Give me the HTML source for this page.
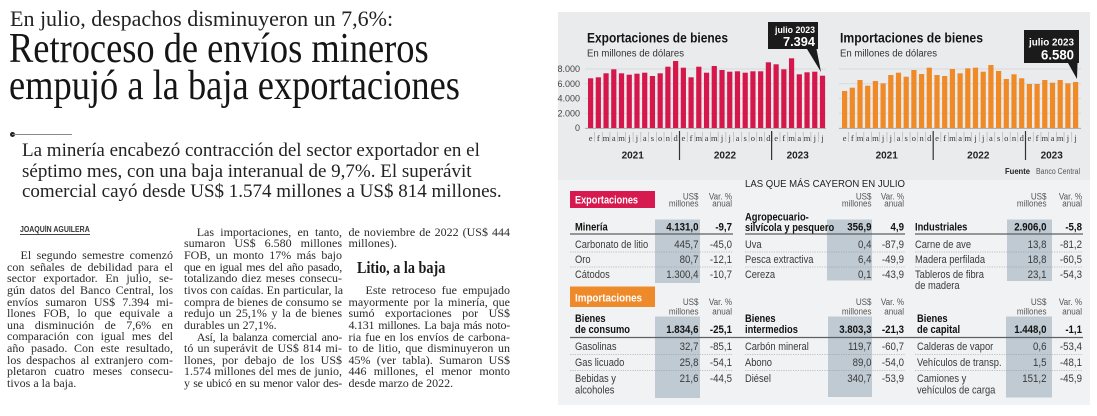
<!DOCTYPE html>
<html><head><meta charset="utf-8">
<style>
html,body{margin:0;padding:0;background:#fff;}
body{width:1097px;height:416px;position:relative;overflow:hidden;font-family:"Liberation Serif",serif;color:#1e1e1e;}
.a{position:absolute;white-space:nowrap;}
.kick{left:10px;top:8.3px;font-size:22px;line-height:22px;color:#222;}
.hl{left:9px;font-size:42px;line-height:42px;transform:scaleX(.867);transform-origin:0 0;color:#151515;}
.dk{left:22px;font-size:19px;line-height:19px;color:#222;}
.col{position:absolute;font-size:12px;line-height:11.67px;color:#2a2a2a;}
.col div{height:11.67px;white-space:nowrap;}
.j{text-align:justify;text-align-last:justify;}
.l{text-align:left;}
.t{letter-spacing:-0.25px;}
</style></head><body>

<div class="a kick">En julio, despachos disminuyeron un 7,6%:</div>
<div class="a hl" style="top:28.1px">Retroceso de envíos mineros</div>
<div class="a hl" style="top:64.8px">empujó a la baja exportaciones</div>

<div class="a" style="left:9.5px;top:131.5px;width:5px;height:5px;border-radius:50%;background:#222"></div>
<div class="a" style="left:12px;top:133.6px;width:60px;height:1px;background:#8a8a8a"></div>

<div class="a dk" style="top:140.8px">La minería encabezó contracción del sector exportador en el</div>
<div class="a dk" style="top:161.6px">séptimo mes, con una baja interanual de 9,7%. El superávit</div>
<div class="a dk" style="top:182.4px">comercial cayó desde US$ 1.574 millones a US$ 814 millones.</div>

<div class="a" style="left:20px;top:225.5px;font-family:'Liberation Sans',sans-serif;font-weight:bold;font-size:8px;line-height:8px;color:#333;transform:scaleX(.87);transform-origin:0 0">JOAQUÍN AGUILERA</div>
<div class="a" style="left:20px;top:234px;width:70px;height:0.8px;background:#444"></div>

<div class="col" style="left:7px;top:249.9px;width:166px">
<div class="j" style="padding-left:13.5px">El segundo semestre comenzó</div>
<div class="j">con señales de debilidad para el</div>
<div class="j">sector exportador. En julio, se-</div>
<div class="j">gún datos del Banco Central, los</div>
<div class="j">envíos sumaron US$ 7.394 mi-</div>
<div class="j">llones FOB, lo que equivale a</div>
<div class="j">una disminución de 7,6% en</div>
<div class="j">comparación con igual mes del</div>
<div class="j">año pasado. Con este resultado,</div>
<div class="j">los despachos al extranjero com-</div>
<div class="j">pletaron cuatro meses consecu-</div>
<div class="l">tivos a la baja.</div>
</div>

<div class="col" style="left:184px;top:226.6px;width:158px">
<div class="j" style="padding-left:12.7px">Las importaciones, en tanto,</div>
<div class="j">sumaron US$ 6.580 millones</div>
<div class="j">FOB, un monto 17% más bajo</div>
<div class="j t">que en igual mes del año pasado,</div>
<div class="j">totalizando diez meses consecu-</div>
<div class="j">tivos con caídas. En particular, la</div>
<div class="j">compra de bienes de consumo se</div>
<div class="j">redujo un 25,1% y la de bienes</div>
<div class="l">durables un 27,1%.</div>
<div class="j t" style="padding-left:12.7px">Así, la balanza comercial ano-</div>
<div class="j">tó un superávit de US$ 814 mi-</div>
<div class="j">llones, por debajo de los US$</div>
<div class="j">1.574 millones del mes de junio,</div>
<div class="j t">y se ubicó en su menor valor des-</div>
</div>

<div class="col" style="left:348.5px;top:226.6px;width:161.5px">
<div class="j">de noviembre de 2022 (US$ 444</div>
<div class="l">millones).</div>
<div></div><div></div><div></div>
<div class="j" style="padding-left:17px">Este retroceso fue empujado</div>
<div class="j">mayormente por la minería, que</div>
<div class="j">sumó exportaciones por US$</div>
<div class="j t">4.131 millones. La baja más noto-</div>
<div class="j">ria fue en los envíos de carbona-</div>
<div class="j">to de litio, que disminuyeron un</div>
<div class="j">45% (ver tabla). Sumaron US$</div>
<div class="j">446 millones, el menor monto</div>
<div class="l">desde marzo de 2022.</div>
</div>

<div class="a" style="left:357px;top:260.2px;font-size:16.5px;line-height:16.5px;font-weight:bold;color:#1a1a1a;transform:scaleX(.86);transform-origin:0 0">Litio, a la baja</div>

<svg class="a" style="left:0;top:0" width="1097" height="416" viewBox="0 0 1097 416" font-family="'Liberation Sans', sans-serif">
<rect x="558" y="12" width="532" height="168" fill="#e9ebed"/>
<rect x="558" y="180" width="532" height="225" fill="#f1f2f3"/>

<!-- grid -->
<g stroke="#d2d5d8" stroke-width="0.8">
<path d="M585 69H826M585 83.75H826M585 98.5H826M585 113.25H826"/>
<path d="M839 69H1081M839 83.75H1081M839 98.5H1081M839 113.25H1081"/>
</g>
<g stroke="#9a9ea2" stroke-width="0.8"><path d="M585 128.3H826M839 128.3H1081"/></g>

<!-- titles -->
<text x="587" y="42.5" font-size="13.5" font-weight="bold" fill="#141414" textLength="141" lengthAdjust="spacingAndGlyphs">Exportaciones de bienes</text>
<text x="587" y="56.5" font-size="10" fill="#333" textLength="97" lengthAdjust="spacingAndGlyphs">En millones de dólares</text>
<text x="840" y="42.5" font-size="13.5" font-weight="bold" fill="#141414" textLength="143" lengthAdjust="spacingAndGlyphs">Importaciones de bienes</text>
<text x="840" y="56.5" font-size="10" fill="#333" textLength="97" lengthAdjust="spacingAndGlyphs">En millones de dólares</text>

<!-- y labels -->
<g font-size="9" fill="#444" text-anchor="end">
<text x="580" y="72.2">8.000</text>
<text x="580" y="86.9">6.000</text>
<text x="580" y="101.7">4.000</text>
<text x="580" y="116.4">2.000</text>
<text x="580" y="131">0</text>
</g>

<!-- export bars -->
<g fill="#d5174c">
<rect x="588" y="78.3" width="5.2" height="49.7"/>
<rect x="595.73" y="77.3" width="5.2" height="50.7"/>
<rect x="603.46" y="73.3" width="5.2" height="54.7"/>
<rect x="611.19" y="69.3" width="5.2" height="58.7"/>
<rect x="618.92" y="73.3" width="5.2" height="54.7"/>
<rect x="626.65" y="74.7" width="5.2" height="53.3"/>
<rect x="634.38" y="73.7" width="5.2" height="54.3"/>
<rect x="642.11" y="72.7" width="5.2" height="55.3"/>
<rect x="649.84" y="76" width="5.2" height="52"/>
<rect x="657.57" y="73.3" width="5.2" height="54.7"/>
<rect x="665.3" y="66.7" width="5.2" height="61.3"/>
<rect x="673.03" y="61" width="5.2" height="67"/>
<rect x="680.76" y="67.7" width="5.2" height="60.3"/>
<rect x="688.49" y="77.3" width="5.2" height="50.7"/>
<rect x="696.22" y="66.7" width="5.2" height="61.3"/>
<rect x="703.95" y="72.7" width="5.2" height="55.3"/>
<rect x="711.68" y="66" width="5.2" height="62"/>
<rect x="719.41" y="70" width="5.2" height="58"/>
<rect x="727.14" y="71.7" width="5.2" height="56.3"/>
<rect x="734.87" y="71.3" width="5.2" height="56.7"/>
<rect x="742.6" y="72.7" width="5.2" height="55.3"/>
<rect x="750.33" y="71.3" width="5.2" height="56.7"/>
<rect x="758.06" y="71.3" width="5.2" height="56.7"/>
<rect x="765.79" y="62.3" width="5.2" height="65.7"/>
<rect x="773.52" y="64.3" width="5.2" height="63.7"/>
<rect x="781.25" y="69.3" width="5.2" height="58.7"/>
<rect x="788.98" y="58.3" width="5.2" height="69.7"/>
<rect x="796.71" y="74.3" width="5.2" height="53.7"/>
<rect x="804.44" y="72.3" width="5.2" height="55.7"/>
<rect x="812.17" y="71.7" width="5.2" height="56.3"/>
<rect x="819.9" y="75.7" width="5.2" height="52.3"/>
</g>

<!-- import bars -->
<g fill="#f08a26">
<rect x="842" y="91" width="5.2" height="37"/>
<rect x="849.7" y="87.7" width="5.2" height="40.3"/>
<rect x="857.4" y="80" width="5.2" height="48"/>
<rect x="865.1" y="85.7" width="5.2" height="42.3"/>
<rect x="872.8" y="81" width="5.2" height="47"/>
<rect x="880.5" y="83.3" width="5.2" height="44.7"/>
<rect x="888.2" y="75" width="5.2" height="53"/>
<rect x="895.9" y="72.7" width="5.2" height="55.3"/>
<rect x="903.6" y="76.7" width="5.2" height="51.3"/>
<rect x="911.3" y="70" width="5.2" height="58"/>
<rect x="919" y="74" width="5.2" height="54"/>
<rect x="926.7" y="67.7" width="5.2" height="60.3"/>
<rect x="934.4" y="75" width="5.2" height="53"/>
<rect x="942.1" y="76" width="5.2" height="52"/>
<rect x="949.8" y="69" width="5.2" height="59"/>
<rect x="957.5" y="73.3" width="5.2" height="54.7"/>
<rect x="965.2" y="68.3" width="5.2" height="59.7"/>
<rect x="972.9" y="67.7" width="5.2" height="60.3"/>
<rect x="980.6" y="71.7" width="5.2" height="56.3"/>
<rect x="988.3" y="65" width="5.2" height="63"/>
<rect x="996" y="71" width="5.2" height="57"/>
<rect x="1003.7" y="79" width="5.2" height="49"/>
<rect x="1011.4" y="74.3" width="5.2" height="53.7"/>
<rect x="1019.1" y="78.3" width="5.2" height="49.7"/>
<rect x="1026.8" y="84" width="5.2" height="44"/>
<rect x="1034.5" y="84" width="5.2" height="44"/>
<rect x="1042.2" y="80" width="5.2" height="48"/>
<rect x="1049.9" y="82.7" width="5.2" height="45.3"/>
<rect x="1057.6" y="80" width="5.2" height="48"/>
<rect x="1065.3" y="83.3" width="5.2" height="44.7"/>
<rect x="1073" y="82" width="5.2" height="46"/>
</g>

<!-- month separators -->
<g stroke="#a8acb0" stroke-width="0.6" fill="none">
<path d="M594.46 132v10m7.73-10v10m7.73-10v10m7.73-10v10m7.73-10v10m7.73-10v10m7.73-10v10m7.73-10v10m7.73-10v10m7.73-10v10m7.73-10v10m7.73-10v10m7.73-10v10m7.73-10v10m7.73-10v10m7.73-10v10m7.73-10v10m7.73-10v10m7.73-10v10m7.73-10v10m7.73-10v10m7.73-10v10m7.73-10v10m7.73-10v10m7.73-10v10m7.73-10v10m7.73-10v10m7.73-10v10m7.73-10v10m7.73-10v10"/>
<path d="M848.45 132v10m7.7-10v10m7.7-10v10m7.7-10v10m7.7-10v10m7.7-10v10m7.7-10v10m7.7-10v10m7.7-10v10m7.7-10v10m7.7-10v10m7.7-10v10m7.7-10v10m7.7-10v10m7.7-10v10m7.7-10v10m7.7-10v10m7.7-10v10m7.7-10v10m7.7-10v10m7.7-10v10m7.7-10v10m7.7-10v10m7.7-10v10m7.7-10v10m7.7-10v10m7.7-10v10m7.7-10v10m7.7-10v10m7.7-10v10"/>
</g>
<!-- month letters -->
<g font-family="'Liberation Serif', serif" font-size="8.5" fill="#333" text-anchor="middle">
<text y="141" x="590.6 598.33 606.06 613.79 621.52 629.25 636.98 644.71 652.44 660.17 667.9 675.63 683.36 691.09 698.82 706.55 714.28 722.01 729.74 737.47 745.2 752.93 760.66 768.39 776.12 783.85 791.58 799.31 807.04 814.77 822.5">efmamjjasondefmamjjasondefmamjj</text>
<text y="141" x="844.6 852.3 860 867.7 875.4 883.1 890.8 898.5 906.2 913.9 921.6 929.3 937 944.7 952.4 960.1 967.8 975.5 983.2 990.9 998.6 1006.3 1014 1021.7 1029.4 1037.1 1044.8 1052.5 1060.2 1067.9 1075.6">efmamjjasondefmamjjasondefmamjj</text>
</g>
<!-- year dividers -->
<g stroke="#333" stroke-width="1.2"><path d="M679.5 131V160M771.6 131V160M933.2 131V160M1025.5 131V160"/></g>
<g font-size="10" font-weight="bold" fill="#222" text-anchor="middle">
<text x="632.7" y="158.5">2021</text><text x="725" y="158.5">2022</text><text x="797.7" y="158.5">2023</text>
<text x="886.7" y="158.5">2021</text><text x="978.3" y="158.5">2022</text><text x="1051.7" y="158.5">2023</text>
</g>

<!-- callouts -->
<path d="M768 22H818V49H816.5L821 72L807 49H768Z" fill="#1b1b1b"/>
<text x="815" y="33" font-size="9.5" font-weight="bold" fill="#fff" text-anchor="end" textLength="40" lengthAdjust="spacingAndGlyphs">julio 2023</text>
<text x="815" y="46" font-size="13" font-weight="bold" fill="#fff" text-anchor="end" textLength="32" lengthAdjust="spacingAndGlyphs">7.394</text>
<path d="M1024 30H1079V63H1077.5L1077 79L1068 63H1024Z" fill="#1b1b1b"/>
<text x="1074" y="45.5" font-size="10" font-weight="bold" fill="#fff" text-anchor="end" textLength="45" lengthAdjust="spacingAndGlyphs">julio 2023</text>
<text x="1074" y="59.5" font-size="14" font-weight="bold" fill="#fff" text-anchor="end" textLength="33" lengthAdjust="spacingAndGlyphs">6.580</text>

<text x="1005" y="174" font-size="8" font-weight="bold" fill="#222" textLength="25" lengthAdjust="spacingAndGlyphs">Fuente</text>
<text x="1036" y="174" font-size="8" fill="#555" textLength="44" lengthAdjust="spacingAndGlyphs">Banco Central</text>

<text x="745" y="187" font-size="10.5" fill="#222" textLength="160" lengthAdjust="spacingAndGlyphs">LAS QUE MÁS CAYERON EN JULIO</text>

<!-- tabs -->
<rect x="570" y="191" width="85" height="17" fill="#d6194e"/>
<text x="575" y="203.5" font-size="11" font-weight="bold" fill="#fff" textLength="63" lengthAdjust="spacingAndGlyphs">Exportaciones</text>
<rect x="570" y="286.5" width="85" height="20.5" fill="#ef8a2b"/>
<text x="575" y="301.5" font-size="11" font-weight="bold" fill="#fff" textLength="67" lengthAdjust="spacingAndGlyphs">Importaciones</text>

<!-- shaded columns -->
<g fill="#bfcad2">
<rect x="655" y="219.5" width="45" height="63.5"/>
<rect x="827" y="219.5" width="45" height="61"/>
<rect x="1007" y="219.5" width="45" height="61.5"/>
<rect x="655" y="316.5" width="45" height="81.5"/>
<rect x="828" y="316.5" width="44" height="80.5"/>
<rect x="1006" y="316.5" width="46" height="81"/>
</g>

<!-- lines -->
<g stroke="#5e6164" stroke-width="1.3"><path d="M570 234H733M745 234H905M915 234H1083M570 337.5H1083"/></g>
<g stroke="#8d9094" stroke-width="0.6" stroke-dasharray="1.2 1.2">
<path d="M570 252H733M745 252H905M915 252H1083M570 267H733M745 267H905M915 267H1083"/>
<path d="M570 354.5H733M745 354.5H905M915 354.5H1083M570 370.5H733M745 370.5H905M915 370.5H1083"/>
</g>

<!-- headers -->
<g font-size="9.5" fill="#555" text-anchor="end">
<g transform="translate(698.5 0) scale(.85 1)"><text x="0" y="199.3">US$</text><text x="0" y="206.6">millones</text><text x="0" y="305">US$</text><text x="0" y="314.3">millones</text></g>
<g transform="translate(732 0) scale(.85 1)"><text x="0" y="199.3">Var. %</text><text x="0" y="206.6">anual</text><text x="0" y="305">Var. %</text><text x="0" y="314.3">anual</text></g>
<g transform="translate(871.5 0) scale(.85 1)"><text x="0" y="199.3">US$</text><text x="0" y="206.6">millones</text><text x="0" y="305">US$</text><text x="0" y="314.3">millones</text></g>
<g transform="translate(904 0) scale(.85 1)"><text x="0" y="199.3">Var. %</text><text x="0" y="206.6">anual</text><text x="0" y="305">Var. %</text><text x="0" y="314.3">anual</text></g>
<g transform="translate(1046.5 0) scale(.85 1)"><text x="0" y="199.3">US$</text><text x="0" y="206.6">millones</text><text x="0" y="305">US$</text><text x="0" y="314.3">millones</text></g>
<g transform="translate(1082 0) scale(.85 1)"><text x="0" y="199.3">Var. %</text><text x="0" y="206.6">anual</text><text x="0" y="305">Var. %</text><text x="0" y="314.3">anual</text></g>
</g>

<!-- labels -->
<g font-size="11" fill="#3a3a3a">
<g transform="translate(575 0) scale(.85 1)">
<text x="0" y="230.5" font-weight="bold" fill="#111">Minería</text>
<text x="0" y="248">Carbonato de litio</text>
<text x="0" y="263">Oro</text>
<text x="0" y="278">Cátodos</text>
<text x="0" y="322" font-weight="bold" fill="#111">Bienes</text>
<text x="0" y="333" font-weight="bold" fill="#111">de consumo</text>
<text x="0" y="350">Gasolinas</text>
<text x="0" y="366">Gas licuado</text>
<text x="0" y="382">Bebidas y</text>
<text x="0" y="393.5">alcoholes</text>
</g>
<g transform="translate(745 0) scale(.85 1)">
<text x="0" y="220.5" font-weight="bold" fill="#111">Agropecuario-</text>
<text x="0" y="231" font-weight="bold" fill="#111">silvícola y pesquero</text>
<text x="0" y="248">Uva</text>
<text x="0" y="263">Pesca extractiva</text>
<text x="0" y="278">Cereza</text>
<text x="0" y="322" font-weight="bold" fill="#111">Bienes</text>
<text x="0" y="333" font-weight="bold" fill="#111">intermedios</text>
<text x="0" y="350">Carbón mineral</text>
<text x="0" y="366">Abono</text>
<text x="0" y="382">Diésel</text>
</g>
<g transform="translate(915 0) scale(.85 1)">
<text x="0" y="230.5" font-weight="bold" fill="#111">Industriales</text>
<text x="0" y="248">Carne de ave</text>
<text x="0" y="263">Madera perfilada</text>
<text x="0" y="278">Tableros de fibra</text>
<text x="0" y="289">de madera</text>
</g>
<g transform="translate(917 0) scale(.85 1)">
<text x="0" y="322" font-weight="bold" fill="#111">Bienes</text>
<text x="0" y="333" font-weight="bold" fill="#111">de capital</text>
<text x="0" y="350">Calderas de vapor</text>
<text x="0" y="366">Vehículos de transp.</text>
<text x="0" y="382">Camiones y</text>
<text x="0" y="393.5">vehículos de carga</text>
</g>
</g>

<!-- numbers -->
<g font-size="11" fill="#3a3a3a" text-anchor="end">
<g transform="translate(698.5 0) scale(.88 1)">
<text x="0" y="230.5" font-weight="bold" fill="#111">4.131,0</text>
<text x="0" y="248">445,7</text><text x="0" y="263">80,7</text><text x="0" y="278">1.300,4</text>
<text x="0" y="333" font-weight="bold" fill="#111">1.834,6</text>
<text x="0" y="350">32,7</text><text x="0" y="366">25,8</text><text x="0" y="382">21,6</text>
</g>
<g transform="translate(732 0) scale(.88 1)">
<text x="0" y="230.5" font-weight="bold" fill="#111">-9,7</text>
<text x="0" y="248">-45,0</text><text x="0" y="263">-12,1</text><text x="0" y="278">-10,7</text>
<text x="0" y="333" font-weight="bold" fill="#111">-25,1</text>
<text x="0" y="350">-85,1</text><text x="0" y="366">-54,1</text><text x="0" y="382">-44,5</text>
</g>
<g transform="translate(871.5 0) scale(.88 1)">
<text x="0" y="230.5" font-weight="bold" fill="#111">356,9</text>
<text x="0" y="248">0,4</text><text x="0" y="263">6,4</text><text x="0" y="278">0,1</text>
<text x="0" y="333" font-weight="bold" fill="#111">3.803,3</text>
<text x="0" y="350">119,7</text><text x="0" y="366">89,0</text><text x="0" y="382">340,7</text>
</g>
<g transform="translate(904 0) scale(.88 1)">
<text x="0" y="230.5" font-weight="bold" fill="#111">4,9</text>
<text x="0" y="248">-87,9</text><text x="0" y="263">-49,9</text><text x="0" y="278">-43,9</text>
<text x="0" y="333" font-weight="bold" fill="#111">-21,3</text>
<text x="0" y="350">-60,7</text><text x="0" y="366">-54,0</text><text x="0" y="382">-53,9</text>
</g>
<g transform="translate(1046.5 0) scale(.88 1)">
<text x="0" y="230.5" font-weight="bold" fill="#111">2.906,0</text>
<text x="0" y="248">13,8</text><text x="0" y="263">18,8</text><text x="0" y="278">23,1</text>
<text x="0" y="333" font-weight="bold" fill="#111">1.448,0</text>
<text x="0" y="350">0,6</text><text x="0" y="366">1,5</text><text x="0" y="382">151,2</text>
</g>
<g transform="translate(1082 0) scale(.88 1)">
<text x="0" y="230.5" font-weight="bold" fill="#111">-5,8</text>
<text x="0" y="248">-81,2</text><text x="0" y="263">-60,5</text><text x="0" y="278">-54,3</text>
<text x="0" y="333" font-weight="bold" fill="#111">-1,1</text>
<text x="0" y="350">-53,4</text><text x="0" y="366">-48,1</text><text x="0" y="382">-45,9</text>
</g>
</g>
</svg>
</body></html>
